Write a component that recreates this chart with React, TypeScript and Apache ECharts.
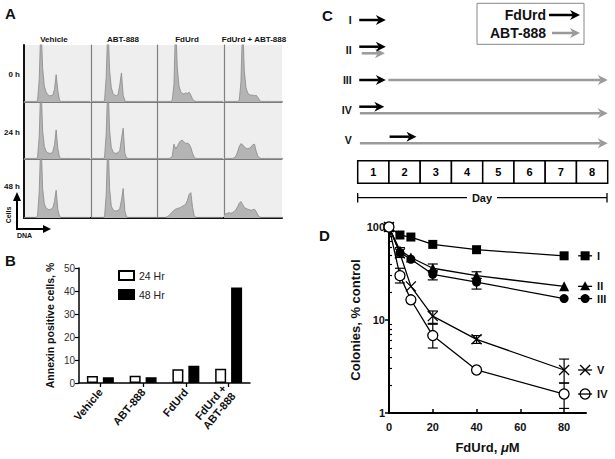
import React, { useEffect, useRef } from "react";
import * as echarts from "echarts";

const F = "'Liberation Sans', Arial, sans-serif";

// ---------- Panel A: DNA histograms (40 bins, % of panel height) ----------
const histCols = ["Vehicle", "ABT-888", "FdUrd", "FdUrd + ABT-888"];
const histRows = ["0 h", "24 h", "48 h"];
const hVeh0 = [1,1,1,1,1,1,1,1,2,40,140,60,28,18,13,11,11,12,22,48,20,3,1,1,1,1,1,1,1,1,1,1,1,1,1,1,1,1,1,1];
const hAbt0 = [1,1,1,1,1,1,1,1,2,45,140,55,25,15,12,11,13,30,51,12,2,1,1,1,1,1,1,1,1,1,1,1,1,1,1,1,1,1,1,1];
const hFd0 = [1,1,1,1,1,1,1,1,1,3,30,140,60,28,18,15,14,16,15,17,12,5,2,1,1,1,1,1,1,1,1,1,1,1,1,1,1,1,1,1];
const hCombo0 = [1,1,1,1,1,1,1,1,1,3,35,140,55,25,16,13,12,12,11,12,8,3,1,1,1,1,1,1,1,1,1,1,1,1,1,1,1,1,1,1];
const hVeh24 = [1,1,1,1,1,1,1,1,2,40,140,50,22,14,11,10,10,12,25,51,18,3,1,1,1,1,1,1,1,1,1,1,1,1,1,1,1,1,1,1];
const hAbt24 = [1,1,1,1,1,1,1,1,2,45,140,50,20,13,10,10,11,15,35,54,10,2,1,1,1,1,1,1,1,1,1,1,1,1,1,1,1,1,1,1];
const hFd24 = [1,1,1,1,1,1,1,1,2,5,26,18,22,28,32,33,30,27,28,26,20,10,3,1,1,1,1,1,1,1,1,1,1,1,1,1,1,1,1,1];
const hCombo24 = [1,1,1,1,1,1,2,5,12,22,27,25,21,19,18,19,21,25,26,14,5,2,1,1,1,1,1,1,1,1,1,1,1,1,1,1,1,1,1,1];
const hVeh48 = [1,1,1,1,1,1,1,1,3,45,140,50,24,17,15,14,15,17,28,47,14,3,1,1,1,1,1,1,1,1,1,1,1,1,1,1,1,1,1,1];
const hAbt48 = [1,1,1,1,1,1,1,1,2,40,140,50,20,14,12,12,13,16,30,50,12,2,1,1,1,1,1,1,1,1,1,1,1,1,1,1,1,1,1,1];
const hFd48 = [1,1,1,1,1,1,2,4,7,10,13,15,16,17,18,20,21,24,30,40,43,18,4,1,1,1,1,1,1,1,1,1,1,1,1,1,1,1,1,1];
const hCombo48 = [5,7,8,9,8,9,11,14,19,25,28,23,18,16,15,14,13,14,15,11,5,2,1,1,1,1,1,1,1,1,1,1,1,1,1,1,1,1,1,1];
const histData = [
  [hVeh0, hAbt0, hFd0, hCombo0],
  [hVeh24, hAbt24, hFd24, hCombo24],
  [hVeh48, hAbt48, hFd48, hCombo48],
];

// ---------- Panel B: Annexin ----------
const annexCats = ["Vehicle", "ABT-888", "FdUrd", "FdUrd +\nABT-888"];
const annex24 = [3, 3.2, 6, 6.2];
const annex48 = [2.5, 2.5, 7.5, 41.5];

// ---------- Panel C: schedules (days from start of day 1) ----------
const schemes = ["I", "II", "III", "IV", "V"];
const fdurdDays = [[0.05, 0.9], [0.05, 0.9], [0.05, 0.9], [0.05, 0.85], [1.02, 1.88]];
const abtDays: (number[] | null)[] = [null, [0.13, 0.87], [0.98, 8], [0.07, 8], [0.07, 8]];
const days = [1, 2, 3, 4, 5, 6, 7, 8];

// ---------- Panel D: colonies ----------
const doses = [0, 5, 10, 20, 40, 80];
const colI = [100, 82, 78, 65, 57, 49];
const colII = [100, 56, 47, 36, 30, 23];
const colIII = [100, 53, 45, 31, 25.5, 17];
const colIV = [100, 30, 16.5, 6.8, 2.9, 1.6];
const colV = [100, 52, 23, 11, 6.2, 2.9];
const errII = [[20, 33, 40], [40, 28, 33]];
const errIII = [[5, 47, 60], [20, 27, 34], [40, 21.5, 28]];
const errIV = [[5, 25, 36], [20, 5, 9], [80, 1.12, 2.1]];
const errV = [[20, 9.2, 12.5], [40, 5.6, 6.8], [80, 2.1, 3.8]];
const yMinor = [2, 3, 4, 5, 6, 7, 8, 9, 20, 30, 40, 50, 60, 70, 80, 90];

// layout
const colLeft = [24, 91, 157, 224];
const colWidth = [67, 66, 67, 58];
const rowTop = [45, 102, 159];
const rowHeight = [57, 57, 59];

function arrow(x1: number, x2: number, y: number, color: string) {
  const head = 10, half = 5, notch = 3;
  return [
    { type: "line", shape: { x1, y1: y, x2: x2 - head + notch, y2: y }, style: { stroke: color, lineWidth: 2.5 } },
    {
      type: "polygon",
      shape: { points: [[x2, y], [x2 - head, y - half], [x2 - head + notch, y], [x2 - head, y + half]] },
      style: { fill: color },
    },
  ];
}

function overlap(i: number) {
  const a = abtDays[i];
  const f = fdurdDays[i];
  if (!a) return false;
  return !(a[0] >= f[1] || f[0] >= a[1]);
}

function buildOption() {
  const grid: any[] = [];
  const xAxis: any[] = [];
  const yAxis: any[] = [];
  const series: any[] = [];

  // Panel A
  for (let r = 0; r < 3; r++) {
    for (let c = 0; c < 4; c++) {
      const g = r * 4 + c;
      grid.push({
        left: colLeft[c], top: rowTop[r], width: colWidth[c], height: rowHeight[r],
        show: true, backgroundColor: "#eeeeee", borderWidth: 0,
      });
      xAxis.push({
        gridIndex: g, type: "value", min: 0, max: (39 * colWidth[c]) / 66,
        axisLine: { show: true, lineStyle: { color: r === 2 ? "#111" : "#7a7a7a", width: r === 2 ? 2 : 1 } },
        axisTick: { show: false }, axisLabel: { show: false }, splitLine: { show: false },
      });
      yAxis.push({
        gridIndex: g, type: "value", min: 0, max: 100,
        axisLine: { show: true, lineStyle: { color: c === 0 ? "#111" : "#808080", width: c === 0 ? 2 : 1.2 } },
        axisTick: { show: false }, axisLabel: { show: false }, splitLine: { show: false },
      });
      series.push({
        type: "line", xAxisIndex: g, yAxisIndex: g,
        data: histData[r][c].map((v, i) => [i, v]),
        showSymbol: false, clip: true, silent: true,
        lineStyle: { color: "#888888", width: 0.8 },
        areaStyle: { color: "#b4b4b4", opacity: 1 },
      });
    }
  }

  // Panel B (grid 12)
  grid.push({ left: 79, top: 268, width: 171, height: 115 });
  xAxis.push({
    gridIndex: 12, type: "category", data: annexCats,
    axisLine: { show: true, lineStyle: { color: "#000", width: 1.5 } },
    axisTick: { show: true, alignWithLabel: true, length: 4, lineStyle: { color: "#000", width: 1.3 } },
    axisLabel: { rotate: 50, interval: 0, margin: 7, fontFamily: F, fontSize: 11, fontWeight: "bold", color: "#111", lineHeight: 12 },
  });
  yAxis.push({
    gridIndex: 12, type: "value", min: 0, max: 50, interval: 10,
    name: "Annexin positive cells, %", nameLocation: "middle", nameGap: 24,
    nameTextStyle: { fontFamily: F, fontSize: 10.5, fontWeight: "bold", color: "#111" },
    axisLine: { show: true, lineStyle: { color: "#000", width: 1.5 } },
    axisTick: { show: true, length: 4, lineStyle: { color: "#000", width: 1.2 } },
    axisLabel: { fontFamily: F, fontSize: 10, color: "#333", margin: 4 },
    splitLine: { show: false },
  });
  series.push({
    type: "bar", name: "24 Hr", xAxisIndex: 12, yAxisIndex: 12, data: annex24,
    barWidth: 11, barGap: "45%",
    itemStyle: { color: "#ffffff", borderColor: "#000", borderWidth: 1.5 },
  });
  series.push({
    type: "bar", name: "48 Hr", xAxisIndex: 12, yAxisIndex: 12, data: annex48,
    barWidth: 11, barGap: "45%",
    itemStyle: { color: "#000000", borderColor: "#000", borderWidth: 1.5 },
  });

  // Panel D (grid 13)
  grid.push({ left: 389, top: 227, width: 197, height: 186 });
  xAxis.push({
    gridIndex: 13, type: "value", min: 0, max: 90,
    name: "FdUrd, {i|μ}M", nameLocation: "middle", nameGap: 28,
    nameTextStyle: {
      fontFamily: F, fontSize: 13, fontWeight: "bold", color: "#111",
      rich: { i: { fontFamily: F, fontSize: 13, fontWeight: "bold", fontStyle: "italic", color: "#111" } },
    },
    axisLine: { show: true, onZero: false, lineStyle: { color: "#000", width: 2 } },
    axisTick: { show: true, inside: true, length: 4, lineStyle: { color: "#000", width: 1.5 }, customValues: [0, 20, 40, 60, 80] },
    axisLabel: { fontFamily: F, fontSize: 11, fontWeight: "bold", color: "#111", margin: 8, customValues: [0, 20, 40, 60, 80] },
    splitLine: { show: false },
  });
  yAxis.push({
    gridIndex: 13, type: "log", logBase: 10, min: 1, max: 100,
    name: "Colonies, % control", nameLocation: "middle", nameGap: 27,
    nameTextStyle: { fontFamily: F, fontSize: 13, fontWeight: "bold", color: "#111" },
    axisLine: { show: true, onZero: false, lineStyle: { color: "#000", width: 2 } },
    axisTick: { show: true, inside: false, length: 4, lineStyle: { color: "#000", width: 1.5 } },
    axisLabel: { fontFamily: F, fontSize: 11, fontWeight: "bold", color: "#111", margin: 4 },
    splitLine: { show: false },
  });
  yAxis.push({
    gridIndex: 13, type: "value", min: 0, max: 2, position: "left", offset: 0,
    axisLine: { show: false },
    axisTick: { show: true, inside: true, length: 3, lineStyle: { color: "#000", width: 1.2 }, customValues: yMinor.map((v) => Math.log10(v)) },
    axisLabel: { show: false }, splitLine: { show: false },
  });

  const dLine = (name: string, vals: number[], symbol: string, size: number, itemStyle: any) => ({
    type: "line", name, xAxisIndex: 13, yAxisIndex: 13,
    data: doses.map((d, i) => [d, vals[i]]),
    symbol, symbolSize: size, showAllSymbol: true,
    lineStyle: { color: "#000", width: 1.3 },
    itemStyle, z: 5,
  });
  series.push(dLine("I", colI, "rect", 9, { color: "#000" }));
  series.push(dLine("II", colII, "triangle", 10, { color: "#000" }));
  series.push(dLine("III", colIII, "circle", 9, { color: "#000" }));
  series.push(dLine("V", colV, "path://M0 0L10 10M10 0L0 10", 10, { color: "#000", borderColor: "#000", borderWidth: 1.3 }));
  series.push(dLine("IV", colIV, "circle", 10, { color: "#fff", borderColor: "#000", borderWidth: 1.3 }));

  const errAll = [...errII, ...errIII, ...errIV, ...errV];
  series.push({
    type: "custom", xAxisIndex: 13, yAxisIndex: 13, data: errAll, z: 4,
    encode: { x: 0, y: [1, 2] },
    renderItem: (_p: any, api: any) => {
      const x = api.value(0), lo = api.value(1), hi = api.value(2);
      const a = api.coord([x, lo]);
      const b = api.coord([x, hi]);
      const cap = 5;
      const st = { stroke: "#000", lineWidth: 1.2 };
      return {
        type: "group",
        children: [
          { type: "line", shape: { x1: a[0], y1: a[1], x2: b[0], y2: b[1] }, style: st },
          { type: "line", shape: { x1: a[0] - cap, y1: a[1], x2: a[0] + cap, y2: a[1] }, style: st },
          { type: "line", shape: { x1: b[0] - cap, y1: b[1], x2: b[0] + cap, y2: b[1] }, style: st },
        ],
      };
    },
  });

  // Panel C (grid 14)
  grid.push({ left: 357.7, top: 5, width: 250, height: 150 });
  xAxis.push({ gridIndex: 14, type: "value", min: 0, max: 8, show: false });
  yAxis.push({
    gridIndex: 14, type: "category", data: schemes, inverse: true,
    axisLine: { show: false }, axisTick: { show: false }, splitLine: { show: false },
    axisLabel: { fontFamily: F, fontSize: 10.5, fontWeight: "bold", color: "#111", margin: 6 },
  });
  series.push({
    type: "custom", xAxisIndex: 14, yAxisIndex: 15, z: 3,
    data: abtDays.map((d, i) => (d ? [i, d[0], d[1]] : null)).filter(Boolean),
    renderItem: (_p: any, api: any) => {
      const row = api.value(0);
      const p1 = api.coord([api.value(1), row]);
      const p2 = api.coord([api.value(2), row]);
      const off = overlap(row) ? 3.3 : 0;
      return { type: "group", children: arrow(p1[0], p2[0], p1[1] + off, "#9a9a9a") };
    },
  });
  series.push({
    type: "custom", xAxisIndex: 14, yAxisIndex: 15, z: 4,
    data: fdurdDays.map((d, i) => [i, d[0], d[1]]),
    renderItem: (_p: any, api: any) => {
      const row = api.value(0);
      const p1 = api.coord([api.value(1), row]);
      const p2 = api.coord([api.value(2), row]);
      const off = overlap(row) ? -3.3 : 0;
      return { type: "group", children: arrow(p1[0], p2[0], p1[1] + off, "#000") };
    },
  });
  series.push({
    type: "custom", xAxisIndex: 14, yAxisIndex: 15, z: 3,
    data: days.map((d) => [d - 1, 0, d]),
    renderItem: (_p: any, api: any) => {
      const a = api.coord([api.value(0), 0]);
      const b = api.coord([api.value(0) + 1, 0]);
      const top = 160.7, h = 22.6;
      return {
        type: "group",
        children: [
          { type: "rect", shape: { x: a[0], y: top, width: b[0] - a[0], height: h }, style: { fill: "#fff", stroke: "#000", lineWidth: 1.5 } },
          {
            type: "text", x: (a[0] + b[0]) / 2, y: top + h / 2,
            style: { text: String(api.value(2)), fill: "#000", font: `bold 11px ${F}`, align: "center", verticalAlign: "middle" },
          },
        ],
      };
    },
  });

  // static graphics
  const graphic: any[] = [];
  const txt = (x: number, y: number, text: string, size: number, align = "left", extra: any = {}) => ({
    type: "text", x, y, ...extra,
    style: { text, fill: "#111", font: `bold ${size}px ${F}`, align, verticalAlign: "middle" },
  });
  graphic.push(txt(5, 13, "A", 15));
  graphic.push(txt(5, 260, "B", 15));
  graphic.push(txt(322, 15, "C", 15));
  graphic.push(txt(319, 235, "D", 15));
  histCols.forEach((c, i) => graphic.push(txt(colLeft[i] + [30, 32, 30, 30][i], 39, c, 8, "center")));
  histRows.forEach((r, i) => graphic.push(txt(20, [74, 132, 186][i], r, 8, "right")));
  // Cells / DNA arrows
  graphic.push({ type: "polyline", shape: { points: [[17, 200], [17, 229], [44, 229]] }, style: { stroke: "#000", lineWidth: 2, fill: null } });
  graphic.push({ type: "polygon", shape: { points: [[17, 192], [13, 201], [21, 201]] }, style: { fill: "#000" } });
  graphic.push({ type: "polygon", shape: { points: [[51, 229], [43, 225], [43, 233]] }, style: { fill: "#000" } });
  graphic.push(txt(8, 215, "Cells", 7, "center", { rotation: Math.PI / 2 }));
  graphic.push(txt(17, 235, "DNA", 7, "left"));
  // Panel C legend box
  graphic.push({ type: "rect", shape: { x: 477, y: 3.3, width: 107, height: 41 }, style: { fill: "#fff", stroke: "#888", lineWidth: 1 } });
  graphic.push(txt(546, 15, "FdUrd", 14, "right"));
  graphic.push(txt(546, 33, "ABT-888", 14, "right"));
  arrow(549, 580, 15, "#000").forEach((e) => graphic.push(e));
  arrow(552, 580, 33, "#9a9a9a").forEach((e) => graphic.push(e));
  // Day bracket
  const ls = { stroke: "#000", lineWidth: 1.3 };
  graphic.push({ type: "line", shape: { x1: 357.7, y1: 197.7, x2: 467, y2: 197.7 }, style: ls });
  graphic.push({ type: "line", shape: { x1: 497, y1: 197.7, x2: 607, y2: 197.7 }, style: ls });
  graphic.push({ type: "line", shape: { x1: 357.7, y1: 193, x2: 357.7, y2: 202.5 }, style: ls });
  graphic.push({ type: "line", shape: { x1: 607, y1: 193, x2: 607, y2: 202.5 }, style: ls });
  graphic.push(txt(482, 198, "Day", 11, "center"));

  return { grid, xAxis, yAxis, series, graphic };
}

export default function App() {
  const ref = useRef<HTMLDivElement>(null);
  useEffect(() => {
    document.body.style.margin = "0";
    const chart = echarts.init(ref.current!, null, { renderer: "svg" });
    const opt: any = buildOption();
    chart.setOption({
      animation: false,
      textStyle: { fontFamily: F },
      legend: {
        data: ["24 Hr", "48 Hr"], orient: "vertical", left: 113, top: 265,
        itemWidth: 15, itemHeight: 9, itemGap: 8, icon: "rect",
        textStyle: { fontFamily: F, fontSize: 10.5, color: "#222" },
      },
      ...opt,
    });
    // D legend glyphs at the end of each curve
    const ends: [string, number[], string][] = [
      ["I", colI, "rect"], ["II", colII, "tri"], ["III", colIII, "dot"], ["V", colV, "x"], ["IV", colIV, "ring"],
    ];
    const g2: any[] = [...opt.graphic];
    ends.forEach(([name, vals, kind]) => {
      const p = chart.convertToPixel({ xAxisIndex: 13, yAxisIndex: 13 } as any, [doses[doses.length - 1], vals[vals.length - 1]]) as number[];
      const cx = p[0] + 21, cy = p[1];
      const st = { stroke: "#000", lineWidth: 1.3 };
      const line = { type: "line", shape: { x1: cx - 7, y1: cy, x2: cx + 7, y2: cy }, style: st };
      if (kind === "ring") {
        g2.push({ type: "circle", shape: { cx, cy, r: 5 }, style: { fill: "#fff", stroke: "#000", lineWidth: 1.3 } });
        g2.push(line);
      } else {
        g2.push(line);
        if (kind === "rect") g2.push({ type: "rect", shape: { x: cx - 4.5, y: cy - 4.5, width: 9, height: 9 }, style: { fill: "#000" } });
        if (kind === "tri") g2.push({ type: "polygon", shape: { points: [[cx, cy - 5], [cx - 5, cy + 4], [cx + 5, cy + 4]] }, style: { fill: "#000" } });
        if (kind === "dot") g2.push({ type: "circle", shape: { cx, cy, r: 4.5 }, style: { fill: "#000" } });
        if (kind === "x") {
          g2.push({ type: "line", shape: { x1: cx - 5, y1: cy - 5, x2: cx + 5, y2: cy + 5 }, style: st });
          g2.push({ type: "line", shape: { x1: cx - 5, y1: cy + 5, x2: cx + 5, y2: cy - 5 }, style: st });
        }
      }
      g2.push({
        type: "text", x: cx + 12, y: cy,
        style: { text: name, fill: "#111", font: `bold 11px ${F}`, align: "left", verticalAlign: "middle" },
      });
    });
    chart.setOption({ graphic: g2 });
    return () => chart.dispose();
  }, []);
  return <div ref={ref} style={{ width: 615, height: 459, position: "absolute", left: 0, top: 0, background: "#fff" }} />;
}
